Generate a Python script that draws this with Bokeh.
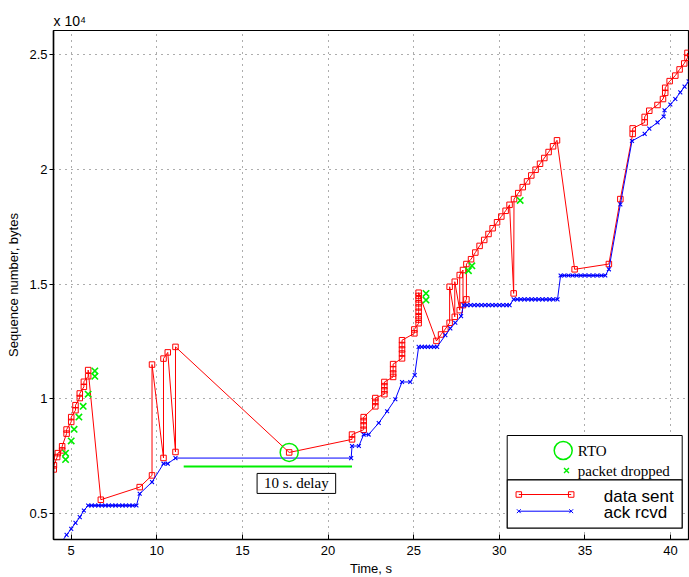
from bokeh.plotting import figure
from bokeh.models import Range1d, FixedTicker, Label
from bokeh.embed import file_html
from bokeh.resources import INLINE

# ---------------- data ----------------
sent_t = [3.98, 3.99, 4.18, 4.22, 4.47, 4.47, 4.73, 4.73, 5.0, 5.0,
          5.25, 5.25, 5.5, 5.5, 5.74, 5.74, 5.99, 5.99,
          6.73, 9.0, 9.72, 9.72, 10.39, 10.39, 10.64, 11.09, 11.09, 17.73,
          21.4, 21.4, 22.08, 22.08, 22.08, 22.08, 22.76, 22.76, 22.76,
          23.29, 23.29, 23.29, 23.29, 23.8, 23.8, 23.8, 23.8,
          24.32, 24.32, 24.32, 24.32, 24.32, 25.04, 25.04,
          25.29, 25.29, 25.29, 25.29, 25.29, 25.29, 25.29, 25.29, 25.29,
          26.33, 26.6, 26.85, 27.1, 27.1, 27.4, 27.4, 27.69, 27.69, 27.88, 27.88,
          28.08, 28.08, 28.35, 28.6, 28.85, 29.12, 29.37, 29.61, 29.87, 30.12,
          30.37, 30.6, 30.84, 30.86, 31.11, 31.37, 31.62, 31.87, 32.12, 32.38,
          32.63, 32.88, 33.14, 33.37, 34.4, 36.4, 37.07, 37.79, 37.79,
          38.49, 38.49, 38.76, 39.24, 39.56, 39.69, 39.69, 39.95, 40.28,
          40.53, 40.8, 40.99, 40.99]
sent_seq = [6920, 7100, 7460, 7630, 7750, 7930, 8480, 8660, 8990, 9200,
            9500, 9720, 10030, 10230, 10520, 10740, 10980, 11250,
            5600, 6150, 6660, 11490, 7420, 11750, 12020, 7680, 12260, 7660,
            8230, 8440, 8650, 8840, 9030, 9200, 9670, 9860, 10030,
            10200, 10370, 10550, 10730, 10950, 11100, 11290, 11510,
            11760, 11970, 12150, 12340, 12550, 12850, 13020,
            13290, 13450, 13600, 13790, 13980, 14160, 14330, 14480, 14620,
            12520, 12800, 13040, 13310, 14880, 13570, 15100, 13860, 15390, 15610, 14080,
            14330, 15870, 16080, 16370, 16660, 16920, 17180, 17430, 17690, 17940,
            18190, 18450, 14590, 18700, 18960, 19220, 19470, 19730, 19980, 20240,
            20490, 20750, 21000, 21260, 15640, 15870, 18700, 21540, 21780,
            22040, 22280, 22550, 22800, 23060, 23330, 23550, 23840, 24080,
            24350, 24610, 24860, 25070]

ack_t = [4.2, 4.47, 4.73, 5.0, 5.25, 5.5, 5.74,
         5.99, 6.19, 6.39, 6.59, 6.79, 6.99, 7.19, 7.39, 7.59, 7.79, 7.99, 8.19, 8.39, 8.59, 8.81,
         9.0, 9.72, 10.39, 10.64, 11.09, 21.35, 21.4, 21.8, 22.08, 22.37,
         22.96, 23.45, 23.93, 24.32, 24.8, 25.06,
         25.29, 25.47, 25.65, 25.83, 26.01, 26.19, 26.37,
         26.85, 27.14, 27.43, 27.77,
         27.91, 28.12, 28.33, 28.54, 28.75, 28.96, 29.17, 29.38, 29.59, 29.8, 30.01, 30.22, 30.43, 30.6,
         30.84, 31.05, 31.26, 31.47, 31.68, 31.89, 32.1, 32.31, 32.52, 32.73, 32.94, 33.15, 33.4,
         33.58, 33.8, 34.04, 34.28, 34.52, 34.76, 35.0, 35.24, 35.48, 35.72, 35.96, 36.19,
         36.4, 37.07, 37.75, 38.49, 38.76, 39.24, 39.6, 39.65, 39.99, 40.28, 40.57, 40.82, 41.06]
ack_seq = [3560, 3790, 4070, 4330, 4590, 4840, 5130,
           5350, 5350, 5350, 5350, 5350, 5350, 5350, 5350, 5350, 5350, 5350, 5350, 5350, 5350, 5350,
           5860, 6370, 7170, 7170, 7415, 7415, 7940, 7940, 8440, 8440,
           8945, 9455, 9980, 10730, 10730, 11030,
           12260, 12260, 12260, 12260, 12260, 12260, 12260,
           12770, 13065, 13310, 13600,
           14080, 14080, 14080, 14080, 14080, 14080, 14080, 14080, 14080, 14080, 14080, 14080, 14080, 14080,
           14330, 14330, 14330, 14330, 14330, 14330, 14330, 14330, 14330, 14330, 14330, 14330, 14330,
           15370, 15370, 15370, 15370, 15370, 15370, 15370, 15370, 15370, 15370, 15370, 15370,
           15640, 18470, 21230, 21540, 21770, 22040, 22300, 22570, 22820, 23060, 23350, 23600, 23830]

drop_t = [4.67, 4.67, 5.0, 5.17, 5.45, 5.7, 5.99, 6.38, 6.38, 25.72, 25.72, 28.2, 28.4, 31.22]
drop_seq = [7350, 7630, 8160, 8670, 9200, 9670, 10200, 10980, 11210, 14300, 14590, 15580, 15790, 18640]

rto_t = [17.73]
rto_seq = [7660]

delay_t = [11.57, 21.4]
delay_seq = [7050, 7050]

x_ticks = [5, 10, 15, 20, 25, 30, 35, 40]
y_ticks = [5000, 10000, 15000, 20000, 25000]
y_tick_labels = ["0.5", "1", "1.5", "2", "2.5"]

# ---------------- figure ----------------
SANS = "Liberation Sans"
SERIF = "Liberation Serif"
FW, FH = 635, 509

p = figure(frame_width=FW, frame_height=FH,
           x_range=Range1d(3.966, 41.05), y_range=Range1d(3867, 26046),
           output_backend="svg", toolbar_location=None,
           min_border_left=53, min_border_right=1, min_border_top=30, min_border_bottom=38)
p.background_fill_color = "white"
p.border_fill_color = "white"
p.outline_line_color = "black"
p.outline_line_width = 1.2

# exponent multiplier shown as the title, top-left like the reference
p.title.text = "x 10\u2074"
p.title.align = "left"
p.title.text_font = SANS
p.title.text_font_size = "14px"
p.title.text_font_style = "normal"
p.title.text_color = "black"
p.title.standoff = 3
p.title.offset = 0

p.extra_x_ranges = {"px": Range1d(0, FW)}
p.extra_y_ranges = {"py": Range1d(0, FH)}

# axes
p.xaxis.ticker = FixedTicker(ticks=x_ticks)
p.yaxis.ticker = FixedTicker(ticks=y_ticks)
p.yaxis.major_label_overrides = {t: l for t, l in zip(y_ticks, y_tick_labels)}
for ax in (p.xaxis[0], p.yaxis[0]):
    ax.axis_line_color = "black"
    ax.axis_line_width = 1.5
    ax.major_tick_line_color = "black"
    ax.minor_tick_line_color = None
    ax.major_label_text_font = SANS
    ax.major_label_text_font_size = "13px"
    ax.major_label_text_color = "black"
    ax.axis_label_text_font = SANS
    ax.axis_label_text_font_size = "13px"
    ax.axis_label_text_font_style = "normal"
    ax.axis_label_text_color = "black"
p.xaxis.major_tick_in = 5
p.xaxis.major_tick_out = 0
p.xaxis.major_label_standoff = 6
p.xaxis.axis_label_standoff = 3
p.yaxis.major_tick_in = 0
p.yaxis.major_tick_out = 4
p.yaxis.major_label_standoff = 2
p.yaxis.axis_label_standoff = 5
p.xaxis.axis_label = "Time, s"
p.yaxis.axis_label = "Sequence number, bytes"

# grid
p.xgrid.ticker = FixedTicker(ticks=x_ticks)
p.ygrid.ticker = FixedTicker(ticks=y_ticks)
for g in (p.xgrid[0], p.ygrid[0]):
    g.grid_line_color = "#333333"
    g.grid_line_dash = "1 5"
    g.grid_line_width = 1
    g.grid_line_alpha = 0.8

RED = "#ff0000"
BLUE = "#0000ff"
GREEN = "#00ee00"

# data
p.line(sent_t, sent_seq, line_color=RED, line_width=1)
p.scatter(sent_t, sent_seq, marker="square", size=5.5, fill_color=None, line_color=RED, line_width=1)
p.line(ack_t, ack_seq, line_color=BLUE, line_width=1)
p.scatter(ack_t, ack_seq, marker="x", size=5.5, line_color=BLUE, line_width=1.1)
p.scatter(drop_t, drop_seq, marker="x", size=9, line_color=GREEN, line_width=1.6)
p.scatter(rto_t, rto_seq, marker="circle", size=18, fill_color=None, line_color=GREEN, line_width=1.5)
p.line(delay_t, delay_seq, line_color=GREEN, line_width=2)

p.add_layout(Label(x=18.15, y=6310, text="10 s. delay", text_align="center", text_baseline="middle",
                   text_font=SERIF, text_font_size="15px", text_color="black",
                   background_fill_color="white", border_line_color="black", border_line_width=1,
                   padding=(7, 2)))

# ---------------- legend (frame pixel coordinates) ----------------
LX0, LX1 = 453.7, 628.7
LB0, LMID, LT1 = 11.3, 59.7, 104.0
kw = dict(x_range_name="px", y_range_name="py")
p.quad(left=[LX0], right=[LX1], bottom=[LMID], top=[LT1], fill_color="white",
       line_color="black", line_width=1, **kw)
p.quad(left=[LX0], right=[LX1], bottom=[LB0], top=[LMID], fill_color="white",
       line_color="black", line_width=1.3, **kw)
p.scatter([509.7], [89], marker="circle", size=18, fill_color=None, line_color=GREEN, line_width=1.5, **kw)
p.scatter([513], [69], marker="x", size=7, line_color=GREEN, line_width=1.4, **kw)
p.add_layout(Label(x=524.3, y=88.5, x_units="screen", y_units="screen", text="RTO",
                   text_font=SERIF, text_font_size="15px", text_baseline="middle", text_color="black"))
p.add_layout(Label(x=524.3, y=69, x_units="screen", y_units="screen", text="packet dropped",
                   text_font=SERIF, text_font_size="15px", text_baseline="middle", text_color="black"))
p.line([465.3, 517.7], [45, 45], line_color=RED, line_width=1, **kw)
p.scatter([465.3, 517.7], [45, 45], marker="square", size=5.5, fill_color=None, line_color=RED, **kw)
p.line([465.3, 517.7], [28.3, 28.3], line_color=BLUE, line_width=1, **kw)
p.scatter([465.3, 517.7], [28.3, 28.3], marker="x", size=5.5, line_color=BLUE, **kw)
p.add_layout(Label(x=550.3, y=43.5, x_units="screen", y_units="screen", text="data sent",
                   text_font=SANS, text_font_size="17px", text_baseline="middle", text_color="black"))
p.add_layout(Label(x=550.3, y=27.5, x_units="screen", y_units="screen", text="ack rcvd",
                   text_font=SANS, text_font_size="17px", text_baseline="middle", text_color="black"))

open("out.html", "w").write(file_html(p, INLINE))
